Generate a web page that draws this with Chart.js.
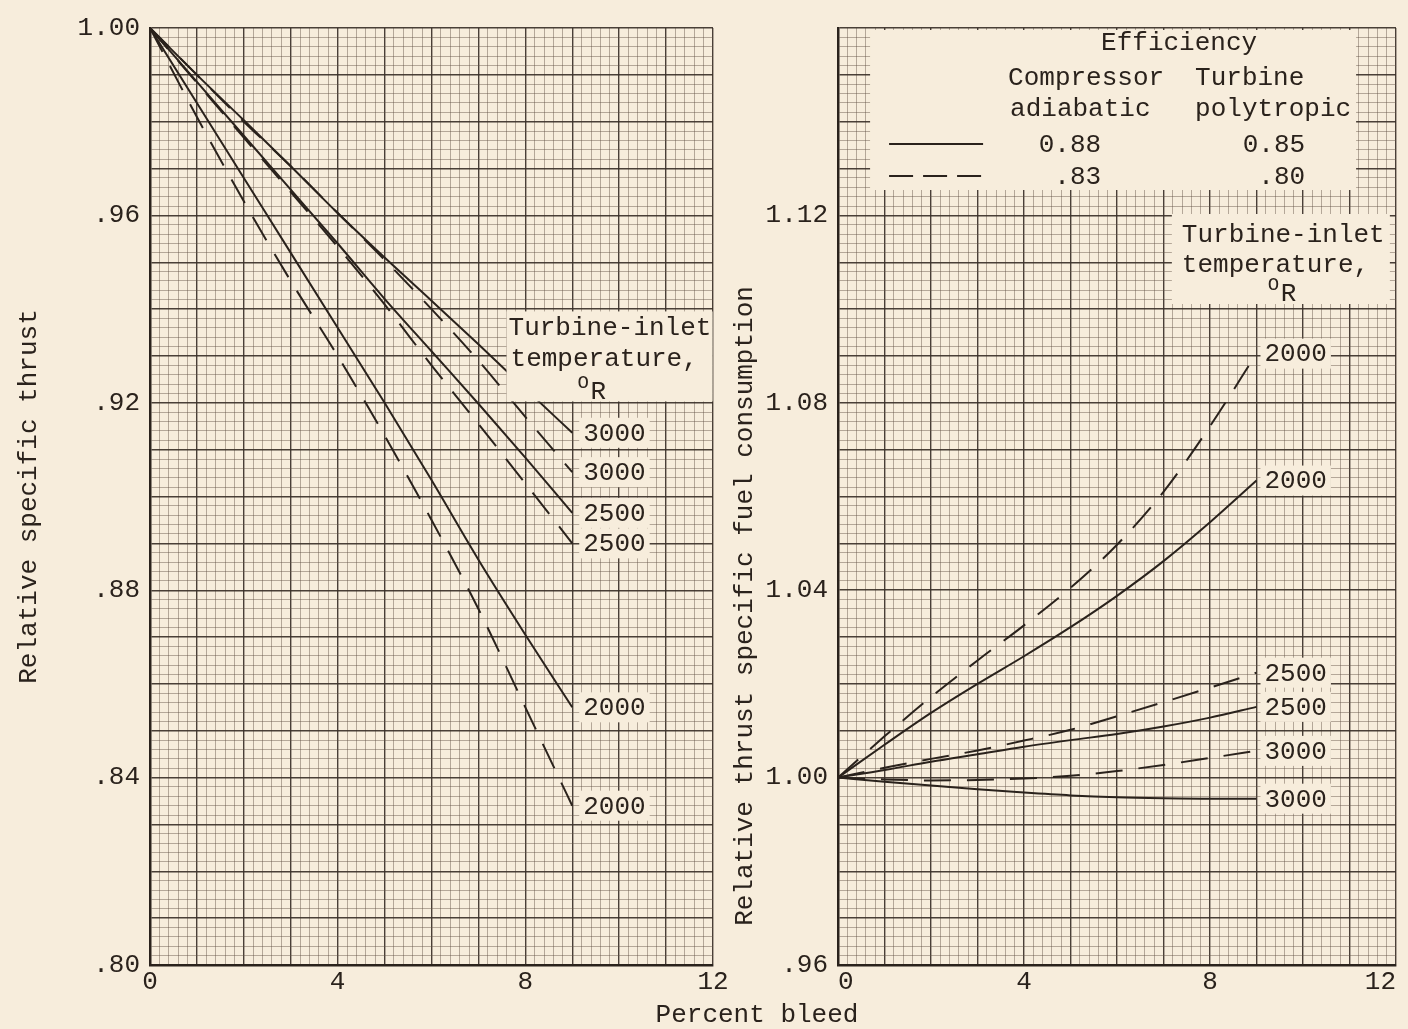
<!DOCTYPE html>
<html>
<head>
<meta charset="utf-8">
<title>Relative thrust and fuel consumption vs percent bleed</title>
<script src="https://cdn.jsdelivr.net/npm/chart.js@4.4.1/dist/chart.umd.min.js"></script>
<style>
  html, body { margin: 0; padding: 0; background: #f7eddc; }
  #wrap { position: relative; width: 1408px; height: 1029px; overflow: hidden; }
  canvas { position: absolute; top: 0; }
  #c-thrust { left: 0; }
  #c-sfc { left: 720px; }
</style>
</head>
<body>
<div id="wrap">
  <canvas id="c-thrust" width="1408" height="1029"></canvas>
  <canvas id="c-sfc" width="688" height="1029"></canvas>
</div>
<script>
const BLEED = [0, 1, 2, 3, 4, 5, 6, 7, 8, 9];

// left panel: relative specific thrust (solid = 0.88/0.85, dashed = .83/.80)
const THRUST_3000_SOLID = [1.0, 0.990, 0.9803, 0.9705, 0.9605, 0.951, 0.9418, 0.9325, 0.923, 0.9136];
const THRUST_3000_DASH  = [1.0, 0.990, 0.980, 0.9705, 0.9605, 0.9505, 0.940, 0.929, 0.917, 0.9052];
const THRUST_2500_SOLID = [1.0, 0.9885, 0.977, 0.9655, 0.954, 0.9422, 0.931, 0.9198, 0.9083, 0.8965];
const THRUST_2500_DASH  = [1.0, 0.9883, 0.9766, 0.965, 0.9533, 0.941, 0.928, 0.9155, 0.9028, 0.890];
const THRUST_2000_SOLID = [1.0, 0.984, 0.968, 0.952, 0.936, 0.920, 0.9035, 0.8865, 0.8705, 0.855];
const THRUST_2000_DASH  = [1.0, 0.981, 0.963, 0.946, 0.930, 0.913, 0.895, 0.876, 0.855, 0.834];

// right panel: relative thrust specific fuel consumption
const SFC_2000_SOLID = [1.0, 1.007, 1.0138, 1.0200, 1.0259, 1.0321, 1.0388, 1.0462, 1.0545, 1.0634];
const SFC_2000_DASH  = [1.0, 1.0088, 1.0172, 1.0250, 1.0325, 1.0405, 1.0497, 1.0610, 1.0750, 1.0905];
const SFC_2500_SOLID = [1.0, 1.0016, 1.0034, 1.005, 1.0066, 1.0080, 1.0093, 1.0109, 1.0128, 1.0151];
const SFC_2500_DASH  = [1.0, 1.0021, 1.004, 1.0058, 1.0079, 1.0102, 1.0131, 1.0161, 1.0192, 1.0224];
const SFC_3000_SOLID = [1.0, 0.9991, 0.9983, 0.9975, 0.9968, 0.9962, 0.9958, 0.9956, 0.9955, 0.9955];
const SFC_3000_DASH  = [1.0, 0.9996, 0.9994, 0.9995, 0.9998, 1.0004, 1.0014, 1.0027, 1.0042, 1.0057];

// tick labels
const X_TICK_LABELS = [0, 4, 8, 12];
const THRUST_TICK_LABELS = [0.80, 0.84, 0.88, 0.92, 0.96, 1.00];
const SFC_TICK_LABELS = [0.96, 1.00, 1.04, 1.08, 1.12];

// efficiency legend rows: compressor adiabatic, turbine polytropic
const COMPRESSOR_EFF = ['0.88', '.83'];
const TURBINE_EFF = ['0.85', '.80'];

const FONT = "'Liberation Mono', 'DejaVu Sans Mono', monospace";
const INK = '#2a221c';
const PAPER = '#f7eddc';
const GRID_MAJOR = 'rgba(58,48,40,0.92)';
const GRID_MINOR = 'rgba(98,82,68,0.45)';
const DASH = [27, 16];

const near = (a, b) => Math.abs(a - b) < 1e-7;
const onStep = (v, step) => near(v / step, Math.round(v / step));
const inList = (list, v) => list.some((l) => near(l, v));
const fmt = (v) => v.toFixed(2).replace(/^0/, '');

function gridStyle(step) {
  const major = (c) => !c.tick || onStep(c.tick.value, step);
  return {
    drawTicks: false,
    color: (c) => major(c) ? GRID_MAJOR : GRID_MINOR,
    lineWidth: (c) => major(c) ? 1.4 : 1,
  };
}

/* ---------- drawing helpers for the in-plot notes ---------- */
function paperBox(ctx, x, y, w, h) {
  ctx.fillStyle = PAPER;
  ctx.fillRect(x, y, w, h);
}
function txt(ctx, s, x, y, align, size) {
  ctx.font = (size || 26) + 'px ' + FONT;
  ctx.fillStyle = INK;
  ctx.textAlign = align || 'left';
  ctx.textBaseline = 'middle';
  ctx.fillText(s, x, y);
}
function degR(ctx, x, y) {
  txt(ctx, 'O', x - 1, y - 9, 'left', 19);
  txt(ctx, 'R', x + 12, y, 'left', 26);
}

function endLabels(chart, series, gap) {
  const { ctx, scales: { x, y } } = chart;
  const last = BLEED.length - 1;
  ctx.font = '26px ' + FONT;
  series.forEach((s) => {
    const px = x.getPixelForValue(BLEED[last]) + gap;
    const py = y.getPixelForValue(s.data[last]);
    const w = ctx.measureText(s.label).width;
    paperBox(ctx, px - 3, py - 15, w + 8, 30);
    txt(ctx, s.label, px + 1, py + 1);
  });
}

function tempNote(chart, at, w, h, lines, deg) {
  const { ctx, scales: { x, y } } = chart;
  const bx = x.getPixelForValue(at[0]);
  const by = y.getPixelForValue(at[1]);
  paperBox(ctx, bx, by, w, h);
  lines.forEach((l) => txt(ctx, l[0], bx + l[1], by + l[2]));
  degR(ctx, bx + deg[0], by + deg[1]);
}

function sampleLine(ctx, x0, x1, yy, dashed) {
  ctx.save();
  ctx.strokeStyle = INK;
  ctx.lineWidth = 2;
  ctx.setLineDash(dashed ? [24, 10] : []);
  ctx.beginPath();
  ctx.moveTo(x0, yy);
  ctx.lineTo(x1, yy);
  ctx.stroke();
  ctx.restore();
}

/* ---------- series ---------- */
const thrustSeries = [
  { label: '3000', data: THRUST_3000_SOLID, dashed: false },
  { label: '3000', data: THRUST_3000_DASH, dashed: true },
  { label: '2500', data: THRUST_2500_SOLID, dashed: false },
  { label: '2500', data: THRUST_2500_DASH, dashed: true },
  { label: '2000', data: THRUST_2000_SOLID, dashed: false },
  { label: '2000', data: THRUST_2000_DASH, dashed: true },
];
const sfcSeries = [
  { label: '2000', data: SFC_2000_DASH, dashed: true },
  { label: '2000', data: SFC_2000_SOLID, dashed: false },
  { label: '2500', data: SFC_2500_DASH, dashed: true },
  { label: '2500', data: SFC_2500_SOLID, dashed: false },
  { label: '3000', data: SFC_3000_DASH, dashed: true },
  { label: '3000', data: SFC_3000_SOLID, dashed: false },
];

function makeChart(el, o) {
  const tickFont = { family: FONT, size: 26 };
  return new Chart(el, {
    type: 'line',
    data: {
      datasets: o.series.map((s) => ({
        label: s.label,
        data: BLEED.map((b, i) => ({ x: b, y: s.data[i] })),
        borderColor: INK,
        borderWidth: 2,
        borderDash: s.dashed ? DASH : [],
        pointRadius: 0,
        cubicInterpolationMode: 'monotone',
        fill: false,
      })),
    },
    options: {
      responsive: false,
      animation: false,
      layout: { padding: o.padding },
      plugins: { legend: { display: false }, tooltip: { enabled: false } },
      scales: {
        x: {
          type: 'linear', min: 0, max: 12,
          ticks: {
            stepSize: 0.2, autoSkip: false, maxRotation: 0, padding: 2,
            align: o.xAlign, color: INK, font: tickFont,
            callback: (v) => inList(X_TICK_LABELS, v) ? String(Math.round(v)) : '',
          },
          grid: gridStyle(1),
          border: { color: INK, width: 2.5 },
          afterFit: (s) => { s.height = 64; s.paddingLeft = 0; s.paddingRight = 0; },
        },
        y: {
          type: 'linear', min: o.yMin, max: o.yMax,
          ticks: {
            stepSize: 0.002, autoSkip: false, padding: 10,
            color: INK, font: tickFont,
            callback: (v) => inList(o.yLabels, v) ? fmt(v) : '',
          },
          grid: gridStyle(0.01),
          border: { color: INK, width: 2.5 },
          title: o.yTitle,
          afterFit: (s) => { s.width = o.axisWidth; s.paddingTop = 0; s.paddingBottom = 0; },
        },
      },
    },
    plugins: [o.notes],
  });
}

makeChart(document.getElementById('c-thrust'), {
  series: thrustSeries,
  yMin: 0.80, yMax: 1.00,
  yLabels: THRUST_TICK_LABELS,
  axisWidth: 150,
  xAlign: 'center',
  padding: { top: 28, right: 695, bottom: 0, left: 0 },
  yTitle: {
    display: true, text: 'Relative specific thrust', color: INK,
    font: { family: FONT, size: 26 }, padding: { top: 14, bottom: 0 },
  },
  notes: {
    id: 'thrustNotes',
    afterDatasetsDraw(chart) {
      tempNote(chart, [7.6, 0.9395], 206, 90,
        [['Turbine-inlet', 2, 17], ['temperature,', 4, 48]], [72, 81]);
      endLabels(chart, thrustSeries, 10);
      // shared x title, centred under both panels
      txt(chart.ctx, 'Percent bleed', 757, 1015, 'center');
    },
  },
});

makeChart(document.getElementById('c-sfc'), {
  series: sfcSeries,
  yMin: 0.96, yMax: 1.16,
  yLabels: SFC_TICK_LABELS,
  axisWidth: 118,
  xAlign: 'inner',
  padding: { top: 28, right: 12, bottom: 0, left: 0 },
  yTitle: { display: false },
  notes: {
    id: 'sfcNotes',
    afterDatasetsDraw(chart) {
      const { ctx, scales: { x, y } } = chart;
      tempNote(chart, [7.18, 1.1203], 218, 90,
        [['Turbine-inlet', 10, 21], ['temperature,', 10, 51]], [97, 80]);
      endLabels(chart, sfcSeries, 7);

      // efficiency legend box
      const lx = x.getPixelForValue(0.69);
      const ly = y.getPixelForValue(1.16) + 2;
      paperBox(ctx, lx, ly, 486, 160);
      txt(ctx, 'Efficiency', lx + 309, ly + 13, 'center');
      txt(ctx, 'Compressor', lx + 138, ly + 48);
      txt(ctx, 'Turbine', lx + 325, ly + 48);
      txt(ctx, 'adiabatic', lx + 140, ly + 79);
      txt(ctx, 'polytropic', lx + 325, ly + 79);
      COMPRESSOR_EFF.forEach((c, i) => {
        const yy = ly + 114 + 32 * i;
        sampleLine(ctx, lx + 19, lx + 113, yy, i === 1);
        txt(ctx, c, lx + 231, yy + 1, 'right');
        txt(ctx, TURBINE_EFF[i], lx + 435, yy + 1, 'right');
      });

      // y title sits low on this panel, so it is placed by hand
      ctx.save();
      ctx.translate(25, 606);
      ctx.rotate(-Math.PI / 2);
      txt(ctx, 'Relative thrust specific fuel consumption', 0, 0, 'center');
      ctx.restore();
    },
  },
});
</script>
</body>
</html>
